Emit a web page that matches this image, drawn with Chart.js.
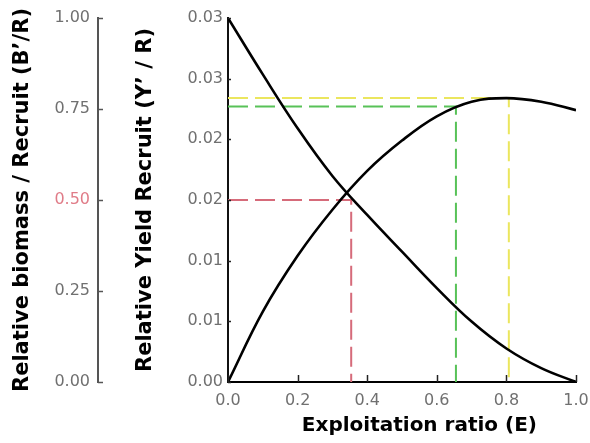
<!DOCTYPE html>
<html>
<head>
<meta charset="utf-8">
<script src="https://cdn.jsdelivr.net/npm/chart.js@4.4.1/dist/chart.umd.min.js"></script>
<style>
    html, body { margin: 0; padding: 0; background: #fff; }
    #wrap { width: 590px; height: 443px; }
</style>
</head>
<body>
<div id="wrap"><canvas id="chart" width="590" height="443"></canvas></div>
<script>
// Exploitation ratio and the two relative per-recruit curves
const exploitation = [0, 0.1, 0.2, 0.3, 0.4, 0.5, 0.6, 0.7, 0.8, 0.9, 1.0];
const biomassPerRecruit = [1.0, 0.845, 0.697, 0.566, 0.459, 0.358, 0.258, 0.166, 0.092, 0.038, 0];
const yieldPerRecruit = [0, 0.0058, 0.0104, 0.0142, 0.0174, 0.0199, 0.0219, 0.0231, 0.0234, 0.0231, 0.0224];

// Reference points: E50 (biomass 0.5), E0.1 and Emax (yield)
const refNames = ['E50', 'E0.1', 'Emax'];
const refE = [0.354, 0.655, 0.807];
const refLevel = [0.5, 0.0227, 0.0234];
const refAxis = ['b', 'y', 'y'];

// Tick values and labels as printed on the figure
const xTickValues = [0, 0.2, 0.4, 0.6, 0.8, 1.0];
const xTickLabels = ['0.0', '0.2', '0.4', '0.6', '0.8', '1.0'];
const yieldTickValues = [0, 0.005, 0.01, 0.015, 0.02, 0.025, 0.03];
const yieldTickLabels = ['0.00', '0.01', '0.01', '0.02', '0.02', '0.03', '0.03'];
const biomassTickValues = [0, 0.25, 0.5, 0.75, 1.0];
const biomassTickLabels = ['0.00', '0.25', '0.50', '0.75', '1.00'];

const refColors = ['#d66b7a', '#58c258', '#ebe65e'];
const tickGray = '#707070';
const tickFont = { family: 'DejaVu Sans', size: 16 };
const titleFont = { family: 'DejaVu Sans', size: 21, weight: 'bold' };

function setTicks(values) {
    return scale => { scale.ticks = values.map(v => ({ value: v })); };
}

// small tick marks drawn towards the inside, like the original plot
const innerTicks = {
    id: 'innerTicks',
    afterDraw(chart) {
        const { ctx, scales } = chart;
        ctx.save();
        ctx.lineWidth = 1.5;
        ctx.strokeStyle = '#222';
        const x = scales.x;
        xTickValues.forEach(v => {
            const px = Math.round(x.getPixelForValue(v)) + 0.5;
            ctx.beginPath();
            ctx.moveTo(px, x.top);
            ctx.lineTo(px, x.top - 7);
            ctx.stroke();
        });
        const y = scales.y;
        yieldTickValues.forEach(v => {
            const py = Math.round(y.getPixelForValue(v)) + 0.5;
            ctx.beginPath();
            ctx.moveTo(y.right, py);
            ctx.lineTo(y.right + 3, py);
            ctx.stroke();
        });
        const b = scales.b;
        ctx.strokeStyle = '#555';
        biomassTickValues.forEach(v => {
            const py = Math.round(b.getPixelForValue(v)) + 0.5;
            ctx.beginPath();
            ctx.moveTo(b.right, py);
            ctx.lineTo(b.right + 5, py);
            ctx.stroke();
        });
        ctx.restore();
    }
};

const curveStyle = {
    borderColor: '#000',
    borderWidth: 2.6,
    pointRadius: 0,
    fill: false,
    tension: 0.4
};

const datasets = [
    {
        label: 'B\'/R',
        yAxisID: 'b',
        data: exploitation.map((e, i) => ({ x: e, y: biomassPerRecruit[i] })),
        order: 0,
        ...curveStyle
    },
    {
        label: 'Y\'/R',
        yAxisID: 'y',
        data: exploitation.map((e, i) => ({ x: e, y: yieldPerRecruit[i] })),
        order: 1,
        ...curveStyle
    }
];

refNames.forEach((name, i) => {
    datasets.push({
        label: name,
        yAxisID: refAxis[i],
        data: [
            { x: 0, y: refLevel[i] },
            { x: refE[i], y: refLevel[i] },
            { x: refE[i], y: 0 }
        ],
        borderColor: refColors[i],
        borderWidth: 2,
        borderDash: [20, 7],
        pointRadius: 0,
        tension: 0,
        fill: false,
        order: 2 + i
    });
});

new Chart(document.getElementById('chart'), {
    type: 'line',
    data: { datasets },
    plugins: [innerTicks],
    options: {
        responsive: false,
        animation: false,
        layout: { padding: { top: 18, right: 14, bottom: 0, left: 0 } },
        plugins: {
            legend: { display: false },
            tooltip: { enabled: false }
        },
        scales: {
            x: {
                type: 'linear',
                min: 0,
                max: 1,
                afterBuildTicks: setTicks(xTickValues),
                afterFit: s => {
                    s.height = 61;
                    s.paddingRight = 0;
                    s.paddingLeft = 0;
                },
                grid: { display: false, drawTicks: false },
                border: { display: true, color: '#000', width: 2 },
                ticks: {
                    padding: 9,
                    color: tickGray,
                    font: tickFont,
                    callback: (v, i) => xTickLabels[i]
                },
                title: {
                    display: true,
                    // leading spaces nudge the centred title to the right, as in the figure
                    text: '     Exploitation ratio (E)',
                    color: '#000',
                    font: { family: 'DejaVu Sans', size: 20, weight: 'bold' },
                    padding: { top: 0, bottom: 5 }
                }
            },
            y: {
                position: 'left',
                weight: 0,
                min: 0,
                max: 0.03,
                afterBuildTicks: setTicks(yieldTickValues),
                afterFit: s => { s.width = 130; },
                grid: { display: false, drawTicks: false },
                border: { display: true, color: '#111', width: 2 },
                ticks: {
                    padding: 5,
                    color: tickGray,
                    font: tickFont,
                    callback: (v, i) => yieldTickLabels[i]
                },
                title: {
                    display: true,
                    text: 'Relative Yield Recruit (Y’ / R)',
                    color: '#000',
                    font: titleFont,
                    padding: { top: 35, bottom: 0 }
                }
            },
            b: {
                position: 'left',
                weight: 10,
                min: 0,
                max: 1,
                afterBuildTicks: setTicks(biomassTickValues),
                afterFit: s => { s.width = 98; },
                grid: { display: false, drawTicks: false },
                border: { display: true, color: '#555', width: 2 },
                ticks: {
                    padding: 8,
                    color: ctx => ctx.tick.value === 0.5 ? '#e07c88' : tickGray,
                    font: tickFont,
                    callback: (v, i) => biomassTickLabels[i]
                },
                title: {
                    display: true,
                    text: 'Relative biomass / Recruit (B’/R)',
                    color: '#000',
                    font: titleFont,
                    padding: { top: 10, bottom: 0 }
                }
            }
        }
    }
});
</script>
</body>
</html>
